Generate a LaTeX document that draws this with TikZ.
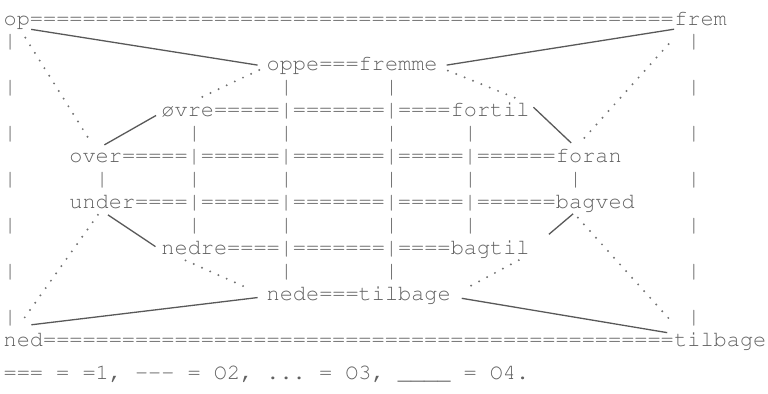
\documentclass[tikz,border=0pt]{standalone}
\usepackage[T1]{fontenc}
\usepackage{courier}
\usepackage{tikz}

\newcommand{\eqrun}[1]{\foreach \i in {1,...,#1}{=}}

\tikzset{
    word/.style={anchor=base west, inner sep=0pt, text height=13pt, text depth=4pt,
        text=black!62, font=\ttfamily\fontsize{21.9}{22}\selectfont\frenchspacing},
    solidline/.style={draw=black!65, line width=1.3pt},
    dotline/.style={draw=black!55, line width=2.2pt, line cap=round, dash pattern=on 0pt off 9pt}
}

\begin{document}
\begin{tikzpicture}[x=13.15pt, y=-23pt]
    \useasboundingbox (-0.266,-1.087) rectangle (58.14,16.04);

    % Words
    \node[word] (op) at (0,0) {op};
    \node[word] (frem) at (51,0) {frem};
    \node[word] (oppe) at (20,2) {oppe};
    \node[word] (fremme) at (27,2) {fremme};
    \node[word] (ovre) at (12,4) {\o{}vre};
    \node[word] (fortil) at (34,4) {fortil};
    \node[word] (over) at (5,6) {over};
    \node[word] (foran) at (42,6) {foran};
    \node[word] (under) at (5,8) {under};
    \node[word] (bagved) at (42,8) {bagved};
    \node[word] (nedre) at (12,10) {nedre};
    \node[word] (bagtil) at (34,10) {bagtil};
    \node[word] (nede) at (20,12) {nede};
    \node[word] (tilbage-ind) at (27,12) {tilbage};
    \node[word] (ned) at (0,14) {ned};
    \node[word] (tilbage-ud) at (51,14) {tilbage};

    % Rows of = between the words
    \node[word] (eq0) at (2,0) {\eqrun{49}};
    \node[word] (eq1) at (24,2) {===};
    \node[word] (eq2) at (16,4) {=====|=======|====};
    \node[word] (eq3) at (9,6) {=====|======|=======|=====|======};
    \node[word] (eq4) at (10,8) {====|======|=======|=====|======};
    \node[word] (eq5) at (17,10) {====|=======|====};
    \node[word] (eq6) at (24,12) {===};
    \node[word] (eq7) at (3,14) {\eqrun{48}};

    % Bars between the rows
    \foreach \row/\col in {1/0, 1/52,
        3/0, 3/21, 3/29, 3/52,
        5/0, 5/14, 5/21, 5/29, 5/35, 5/52,
        7/0, 7/7, 7/14, 7/21, 7/29, 7/35, 7/43, 7/52,
        9/0, 9/14, 9/21, 9/29, 9/35, 9/52,
        11/0, 11/21, 11/29, 11/52,
        13/0, 13/52}
        \node[word] (bar-\row-\col) at (\col,\row) {|};

    % Solid lines
    \draw[solidline, shorten <=1pt, shorten >=9pt] (op.south east) -- (oppe.west);
    \draw[solidline, shorten <=9pt] (fremme.east) -- (frem.south west);
    \draw[solidline, shorten <=6pt, shorten >=10pt] (ovre.west) -- (over.north);
    \draw[solidline, shorten <=5pt, shorten >=10pt] (fortil.north east) -- (foran.140);
    \draw[solidline, shorten <=3pt, shorten >=7pt] (under.290) -- (nedre.west);
    \draw[solidline, shorten <=1pt, shorten >=25pt] (bagved.202) -- (bagtil.east);
    \draw[solidline, shorten <=9pt] (nede.west) -- ([shift={(-12pt,9pt)}]ned.north east);
    \draw[solidline, shorten <=11pt, shorten >=7pt] (tilbage-ind.east) -- (tilbage-ud.north west);

    % Dotted lines
    \draw[dotline, shorten <=10pt, shorten >=7pt] (op.290) -- (over.north);
    \draw[dotline, shorten <=8pt, shorten >=8pt] (oppe.west) -- (ovre.north);
    \draw[dotline, shorten <=11pt, shorten >=16pt] (fremme.east) -- (fortil.north east);
    \draw[dotline, shorten <=20pt, shorten >=8pt] (frem.205) -- (foran.150);
    \draw[dotline, shorten <=2pt, shorten >=19pt] (under.250) -- (ned.140);
    \draw[dotline, shorten <=3pt, shorten >=19pt] (nedre.217) -- (nede.west);
    \draw[dotline, shorten <=2pt, shorten >=15pt] (bagtil.344) -- (tilbage-ind.east);
    \draw[dotline, shorten <=6pt, shorten >=15pt] (bagved.202) -- (tilbage-ud.167);

    % Legend
    \node[word] (legend) at (0,15.4) {=== = =1, -{}-{}- = O2, ... = O3, \_\_\_\_ = O4.};
\end{tikzpicture}
\end{document}
